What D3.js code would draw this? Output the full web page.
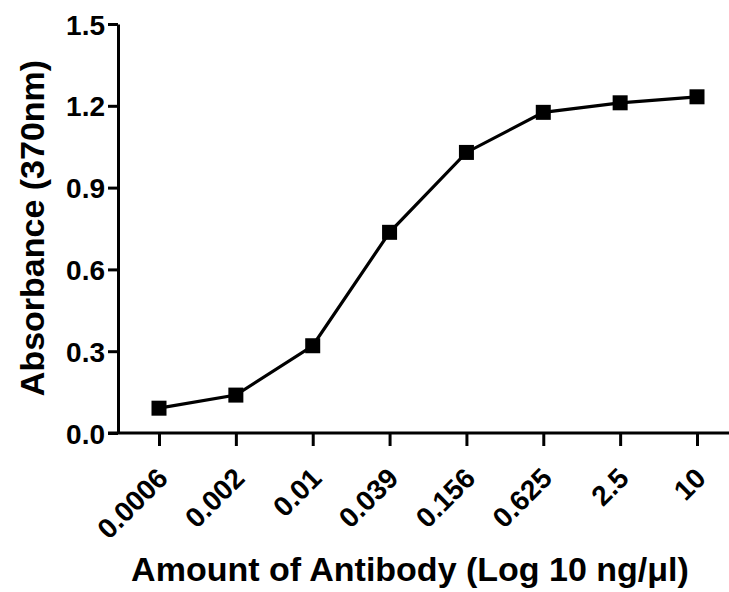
<!DOCTYPE html>
<html><head><meta charset="utf-8">
<script src="https://cdn.jsdelivr.net/npm/d3@7"></script>
<style>
html,body{margin:0;padding:0;background:#fff;}
svg{display:block;}
text{font-family:"Liberation Sans",Arial,sans-serif;font-weight:bold;fill:#000;}
</style></head>
<body>
<svg id="chart" width="729" height="592"></svg>
<script>
const categories = ["0.0006","0.002","0.01","0.039","0.156","0.625","2.5","10"];
const absorbance = [0.091,0.139,0.32,0.736,1.029,1.176,1.211,1.233];
const yTicks = [0.0,0.3,0.6,0.9,1.2,1.5];

const svg = d3.select("#chart");
const x = d3.scalePoint().domain(categories).range([159,697]);
const y = d3.scaleLinear().domain([0,1.5]).range([433,24]);
const axisX0 = 118, axisY0 = 433;

// Y axis
const gy = svg.append("g").attr("transform",`translate(${axisX0},0)`)
  .call(d3.axisLeft(y).tickValues(yTicks).tickFormat(d3.format(".1f")).tickSize(10).tickSizeOuter(0).tickPadding(3));
gy.select(".domain").attr("stroke","#000").attr("stroke-width",3);
gy.selectAll(".tick line").attr("stroke","#000").attr("stroke-width",3);
gy.selectAll(".tick text").style("font-size","28px").attr("dy","0.36em");

// X axis
const gx = svg.append("g").attr("transform",`translate(0,${axisY0})`)
  .call(d3.axisBottom(x).tickSize(13).tickSizeOuter(0));
gx.select(".domain").remove();
gx.append("line").attr("x1",axisX0-10).attr("x2",729).attr("y1",0).attr("y2",0)
  .attr("stroke","#000").attr("stroke-width",3);
gx.selectAll(".tick line").attr("stroke","#000").attr("stroke-width",3);
gx.selectAll(".tick text").style("font-size","28px")
  .attr("text-anchor","end").attr("x",0).attr("y",0).attr("dy","0")
  .attr("transform","translate(10,47) rotate(-45)");

// line
svg.append("path").datum(absorbance)
  .attr("fill","none").attr("stroke","#000").attr("stroke-width",3.2)
  .attr("d", d3.line().x((d,i)=>x(categories[i])).y(d=>y(d)));

// markers
const s = 15;
svg.selectAll("rect.pt").data(absorbance).enter().append("rect")
  .attr("class","pt")
  .attr("x",(d,i)=>x(categories[i])-s/2).attr("y",d=>y(d)-s/2)
  .attr("width",s).attr("height",s).attr("fill","#000");

// titles
svg.append("text").attr("transform","translate(44,228) rotate(-90)")
  .attr("text-anchor","middle").style("font-size","34px").text("Absorbance (370nm)");
svg.append("text").attr("x",410).attr("y",581)
  .attr("text-anchor","middle").style("font-size","34px").text("Amount of Antibody (Log 10 ng/μl)");
</script>
</body></html>
